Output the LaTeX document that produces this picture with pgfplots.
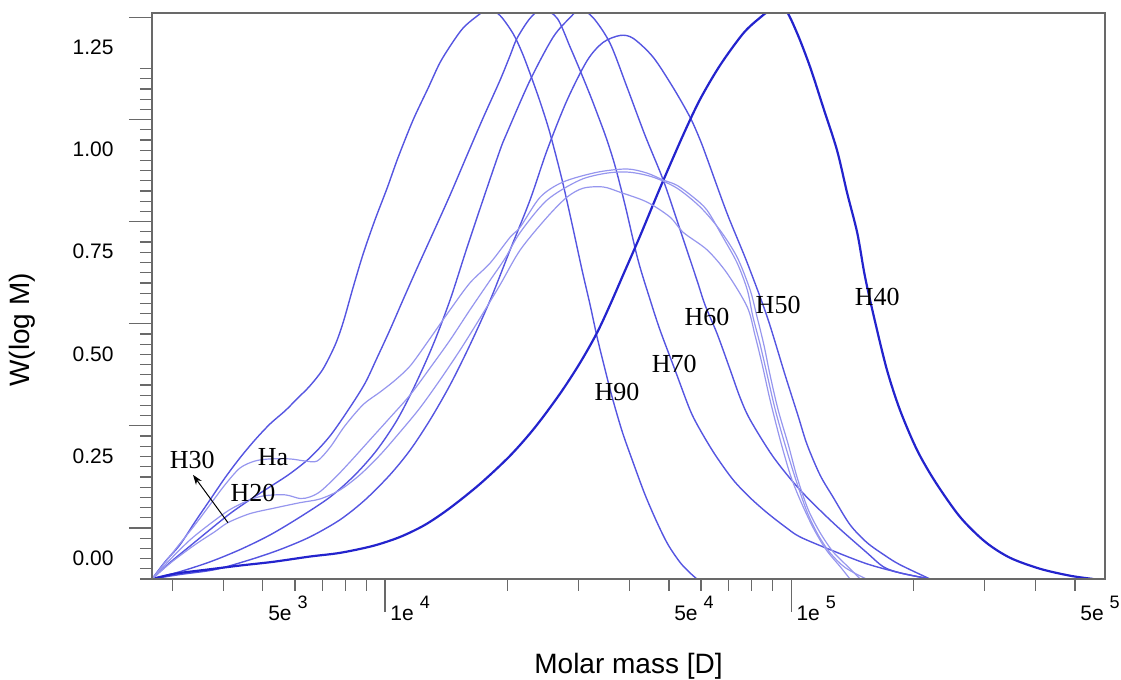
\documentclass[border=0pt]{standalone}
\usepackage{fontspec}
\setmainfont{Liberation Sans}
\newfontfamily\serifann{Liberation Serif}
\usepackage{pgfplots}
\pgfplotsset{compat=1.18}
\usetikzlibrary{calc,arrows.meta}

\definecolor{darkline}{RGB}{35,35,205}
\definecolor{midline}{RGB}{85,85,225}
\definecolor{lightline}{RGB}{150,150,238}
\definecolor{framegray}{RGB}{105,105,105}

% tick label like "5e 3" with raised exponent
\newcommand{\sci}[2]{#1e\hspace{3pt}\raisebox{6pt}{\fontsize{9}{10}\selectfont #2}}

\begin{document}
\begin{tikzpicture}
\begin{axis}[
    scale only axis, width=476.5pt, height=283pt,
    xmin=3.426, xmax=5.773, ymin=0, ymax=1.386,
    axis line style={framegray, line width=0.75pt},
    every tick/.style={framegray, line width=0.6pt},
    tick align=outside,
    xtick pos=bottom, ytick pos=left,
    xtick={3.699,4,4.699,5,5.699},
    xticklabels={\sci{5}{3},\sci{1}{4},\sci{5}{4},\sci{1}{5},\sci{5}{5}},
    minor xtick={3.477,3.602,3.778,3.845,3.903,3.954,4.301,4.477,4.602,4.778,4.845,4.903,4.954,5.301,5.477,5.602},
    extra x ticks={4,5}, extra x tick labels={},
    extra x tick style={major tick length=16.5pt},
    ytick={0,0.25,0.5,0.75,1,1.25},
    yticklabels={0.00,0.25,0.50,0.75,1.00,1.25},
    minor y tick num=9,
    extra y ticks={0.125,0.375,0.625,0.875,1.125,1.375}, extra y tick labels={},
    extra y tick style={major tick length=11.5pt},
    major tick length=6pt, minor tick length=6pt,
    tick label style={font=\fontsize{10.5}{12}\selectfont},
    xticklabel style={anchor=north west, inner xsep=0pt, xshift=2.5pt, yshift=1pt},
    yticklabel style={yshift=10.5pt, inner xsep=1.5pt, xshift=-11.5pt},
    label style={font=\fontsize{14}{16}\selectfont},
    xlabel={Molar mass [D]},
    xlabel style={at={(axis description cs:0.5,-0.1537)}, anchor=center},
    ylabel={W(log M)},
    ylabel style={at={(axis description cs:-0.1364,0.44)}, anchor=center},
    axis on top,
]
% H90
\addplot[midline, line width=0.7pt, smooth, tension=0.5] coordinates {
(3.426,0) (3.458,0.042) (3.495,0.084) (3.532,0.140) (3.569,0.194) (3.606,0.248)
(3.643,0.297) (3.680,0.341) (3.717,0.380) (3.754,0.412) (3.783,0.441) (3.815,0.473)
(3.847,0.514) (3.877,0.573) (3.897,0.629) (3.921,0.713) (3.946,0.796) (3.975,0.879)
(4.005,0.957) (4.032,1.032) (4.069,1.124) (4.106,1.202) (4.135,1.264) (4.165,1.312)
(4.192,1.349) (4.222,1.375) (4.254,1.395) (4.283,1.380) (4.315,1.336) (4.337,1.290)
(4.357,1.238) (4.382,1.168) (4.406,1.092) (4.436,0.977) (4.461,0.867) (4.485,0.757)
(4.505,0.671) (4.522,0.593) (4.542,0.512) (4.559,0.446) (4.584,0.361) (4.611,0.285)
(4.640,0.207) (4.670,0.138) (4.697,0.084) (4.727,0.040) (4.751,0.015) (4.768,0)};
% H70
\addplot[midline, line width=0.7pt, smooth, tension=0.5] coordinates {
(3.426,0) (3.470,0.040) (3.520,0.081) (3.569,0.121) (3.618,0.160) (3.667,0.194)
(3.717,0.226) (3.766,0.258) (3.815,0.297) (3.865,0.351) (3.914,0.421) (3.951,0.480)
(3.980,0.541) (4.012,0.610) (4.044,0.683) (4.081,0.766) (4.118,0.847) (4.160,0.940)
(4.202,1.038) (4.241,1.128) (4.283,1.221) (4.308,1.282) (4.325,1.324) (4.357,1.373)
(4.387,1.395) (4.424,1.373) (4.456,1.302) (4.480,1.246) (4.505,1.185) (4.522,1.141)
(4.544,1.082) (4.566,1.013) (4.591,0.916) (4.623,0.781) (4.653,0.683) (4.677,0.610)
(4.714,0.512) (4.751,0.414) (4.776,0.365) (4.813,0.304) (4.857,0.243) (4.899,0.199)
(4.941,0.162) (4.985,0.128) (5.022,0.103) (5.103,0.069) (5.187,0.037) (5.268,0.015)
(5.342,0)};
% H60
\addplot[midline, line width=0.7pt, smooth, tension=0.5] coordinates {
(3.426,0) (3.495,0.018) (3.569,0.042) (3.643,0.072) (3.717,0.108) (3.791,0.152)
(3.865,0.201) (3.926,0.255) (3.980,0.316) (4.030,0.390) (4.074,0.475) (4.118,0.573)
(4.160,0.683) (4.200,0.806) (4.241,0.928) (4.283,1.050) (4.300,1.092) (4.357,1.221)
(4.414,1.327) (4.456,1.375) (4.480,1.395) (4.512,1.375) (4.554,1.312) (4.596,1.204)
(4.640,1.087) (4.685,0.977) (4.727,0.854) (4.768,0.732) (4.788,0.671) (4.818,0.600)
(4.850,0.512) (4.874,0.445) (4.899,0.390) (4.956,0.299) (5.022,0.218) (5.103,0.138)
(5.187,0.064) (5.227,0.030) (5.268,0.015) (5.342,0)};
% H50
\addplot[midline, line width=0.7pt, smooth, tension=0.5] coordinates {
(3.426,0) (3.495,0.011) (3.581,0.023) (3.667,0.047) (3.741,0.072) (3.815,0.103)
(3.889,0.145) (3.951,0.194) (4.012,0.255) (4.062,0.316) (4.111,0.390) (4.160,0.475)
(4.209,0.573) (4.259,0.683) (4.308,0.806) (4.357,0.928) (4.399,1.050) (4.448,1.172)
(4.498,1.270) (4.537,1.314) (4.579,1.331) (4.611,1.324) (4.660,1.278) (4.709,1.204)
(4.751,1.131) (4.776,1.075) (4.793,1.030) (4.842,0.896) (4.892,0.774) (4.941,0.642)
(4.985,0.500) (5.017,0.400) (5.039,0.330) (5.071,0.255) (5.103,0.201) (5.145,0.133)
(5.187,0.089) (5.232,0.057) (5.268,0.035) (5.342,0)};
% H40
\addplot[darkline, line width=1.1pt, smooth, tension=0.5] coordinates {
(3.426,0) (3.483,0.013) (3.562,0.023) (3.643,0.033) (3.724,0.042) (3.815,0.055)
(3.889,0.064) (3.970,0.081) (4.037,0.103) (4.099,0.133) (4.160,0.174) (4.234,0.233)
(4.308,0.302) (4.369,0.371) (4.431,0.454) (4.480,0.529) (4.522,0.603) (4.554,0.671)
(4.586,0.744) (4.628,0.840) (4.677,0.957) (4.734,1.087) (4.776,1.175) (4.825,1.258)
(4.882,1.336) (4.924,1.375) (4.953,1.395) (4.985,1.395) (5.015,1.336) (5.047,1.253)
(5.079,1.155) (5.113,1.050) (5.138,0.945) (5.163,0.847) (5.182,0.740) (5.207,0.629)
(5.236,0.512) (5.268,0.414) (5.310,0.316) (5.355,0.238) (5.416,0.152) (5.478,0.091)
(5.539,0.052) (5.613,0.025) (5.687,0.008) (5.744,0)};
% Ha
\addplot[lightline, line width=0.6pt, smooth, tension=0.5] coordinates {
(3.426,0) (3.483,0.072) (3.532,0.133) (3.569,0.182) (3.606,0.231) (3.643,0.272)
(3.680,0.289) (3.717,0.294) (3.766,0.294) (3.803,0.289) (3.833,0.289) (3.865,0.323)
(3.901,0.375) (3.946,0.427) (3.988,0.458) (4.025,0.487) (4.062,0.522) (4.103,0.578)
(4.160,0.659) (4.209,0.725) (4.259,0.774) (4.308,0.837) (4.333,0.862) (4.382,0.935)
(4.438,0.972) (4.522,0.996) (4.596,1.004) (4.645,0.994) (4.685,0.977) (4.719,0.964)
(4.759,0.935) (4.793,0.903) (4.832,0.837) (4.867,0.774) (4.892,0.708) (4.906,0.642)
(4.924,0.573) (4.941,0.500) (4.961,0.414) (4.985,0.329) (5.010,0.248) (5.039,0.165)
(5.066,0.109) (5.096,0.064) (5.133,0.028) (5.185,0)};
% H20
\addplot[lightline, line width=0.6pt, smooth, tension=0.5] coordinates {
(3.426,0) (3.470,0.047) (3.520,0.096) (3.569,0.135) (3.618,0.170) (3.667,0.194)
(3.704,0.204) (3.754,0.206) (3.791,0.197) (3.815,0.201) (3.840,0.214) (3.877,0.248)
(3.914,0.287) (3.963,0.341) (4.012,0.395) (4.062,0.451) (4.111,0.517) (4.160,0.585)
(4.209,0.659) (4.259,0.732) (4.296,0.786) (4.333,0.849) (4.399,0.928) (4.480,0.977)
(4.547,0.994) (4.603,0.996) (4.660,0.984) (4.719,0.957) (4.776,0.911) (4.825,0.854)
(4.867,0.788) (4.899,0.708) (4.916,0.642) (4.933,0.573) (4.948,0.500) (4.968,0.414)
(4.993,0.329) (5.015,0.248) (5.042,0.170) (5.071,0.114) (5.103,0.067) (5.140,0.030)
(5.170,0)};
% H30
\addplot[lightline, line width=0.6pt, smooth, tension=0.5] coordinates {
(3.426,0) (3.475,0.042) (3.532,0.084) (3.581,0.116) (3.613,0.138) (3.667,0.160)
(3.729,0.174) (3.791,0.187) (3.840,0.196) (3.889,0.218) (3.938,0.255) (3.988,0.304)
(4.037,0.360) (4.086,0.419) (4.135,0.487) (4.185,0.561) (4.234,0.639) (4.283,0.720)
(4.333,0.806) (4.399,0.886) (4.448,0.935) (4.488,0.957) (4.537,0.960) (4.579,0.947)
(4.645,0.923) (4.702,0.886) (4.734,0.849) (4.793,0.806) (4.842,0.749) (4.892,0.666)
(4.911,0.597) (4.929,0.524) (4.948,0.439) (4.973,0.341) (4.998,0.255) (5.022,0.194)
(5.054,0.126) (5.086,0.072) (5.121,0.030) (5.145,0)};

\begin{scope}[every node/.style={font=\serifann\fontsize{13}{14}\selectfont, inner sep=0pt}]
\node at (axis cs:3.525,0.292) {H30};
\node at (axis cs:3.724,0.299) {Ha};
\node at (axis cs:3.675,0.211) {H20};
\node at (axis cs:4.571,0.458) {H90};
\node at (axis cs:4.712,0.527) {H70};
\node at (axis cs:4.793,0.642) {H60};
\node at (axis cs:4.968,0.671) {H50};
\node at (axis cs:5.212,0.690) {H40};
\end{scope}
\draw[-{Stealth[length=5pt,width=3.5pt]}, black, line width=0.5pt] (axis cs:3.613,0.138) -- (axis cs:3.527,0.255);
\end{axis}
\pgfresetboundingbox
\path ($(current axis.south west)+(-76pt,-50.5pt)$) rectangle ($(current axis.north east)+(8pt,6.5pt)$);
\end{tikzpicture}
\end{document}
